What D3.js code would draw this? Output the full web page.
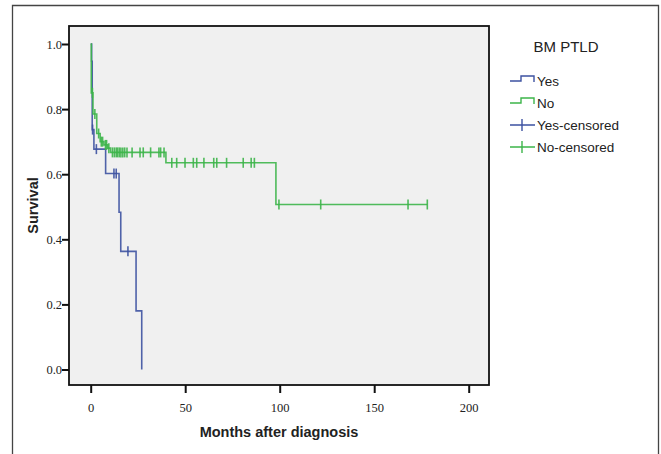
<!DOCTYPE html>
<html>
<head>
<meta charset="utf-8">
<script src="https://cdn.jsdelivr.net/npm/d3@7"></script>
<style>
  body { margin: 0; background: #fff; }
  svg { display: block; }
</style>
</head>
<body>
<script>
// survival steps (months, survival)
const yesTimes = [0, 0.5, 0.8, 1.7, 7.9, 15.0, 15.9, 24.0, 27.0];
const yesSurv = [1.0, 0.947, 0.737, 0.677, 0.602, 0.483, 0.363, 0.18, 0.0];
const yesCensored = [1.0, 3.0, 12.3, 13.5, 19.7];

const noTimes = [0, 0.3, 1.2, 3.2, 5.0, 7.0, 9.0, 10.5, 39.8, 98.0];
const noSurv = [1.0, 0.85, 0.785, 0.725, 0.70, 0.69, 0.68, 0.667, 0.635, 0.507];
const noCensored = [0.9, 2.2, 4.2, 5.6, 6.3, 7.8, 8.4, 9.6, 11.5, 12.5, 13.5, 14.3, 15.2,
  16.0, 17.0, 18.0, 19.2, 21.9, 26.1, 27.8, 31.7, 36.1, 37.0, 38.8, 42.9, 45.5, 49.9,
  54.3, 56.1, 59.9, 65.1, 66.7, 71.9, 80.7, 84.9, 86.6, 99.6, 121.7, 167.9, 178.1];

const xTicks = [0, 50, 100, 150, 200];
const yTicks = [0.0, 0.2, 0.4, 0.6, 0.8, 1.0];
const legendLabels = ["Yes", "No", "Yes-censored", "No-censored"];

const blue = "#3d52a1";
const green = "#3db54a";

let width = 661, height = 454;
let plot = {left: 69, right: 489, top: 26, bottom: 385};

let svg = d3.select("body").append("svg")
  .attr("width", width)
  .attr("height", height);

// outer frame
svg.append("path")
  .attr("d", "M12.5," + height + "V5.5H658.5V" + height)
  .attr("fill", "none")
  .attr("stroke", "#444")
  .attr("stroke-width", 1.3);

svg.append("rect")
  .attr("x", plot.left)
  .attr("y", plot.top)
  .attr("width", plot.right - plot.left)
  .attr("height", plot.bottom - plot.top)
  .attr("fill", "#f0f0f0");

let x = d3.scaleLinear().domain([0, 200]).range([90.7, 468.7]);
let y = d3.scaleLinear().domain([0, 1]).range([369.5, 44]);

// axes
let xAxis = d3.axisBottom(x).tickValues(xTicks).tickSize(8).tickSizeOuter(0).tickFormat(d3.format("d"));
let yAxis = d3.axisLeft(y).tickValues(yTicks).tickSize(7).tickSizeOuter(0).tickFormat(d3.format(".1f"));

let gx = svg.append("g").attr("transform", "translate(0," + plot.bottom + ")").call(xAxis);
let gy = svg.append("g").attr("transform", "translate(" + plot.left + ",0)").call(yAxis);
[gx, gy].forEach(g => {
  g.select(".domain").remove();
  g.selectAll(".tick line").attr("stroke", "#111").attr("stroke-width", 2);
  g.selectAll(".tick text")
    .attr("font-family", "'Liberation Serif', 'DejaVu Serif', serif")
    .attr("font-size", 12.5)
    .attr("fill", "#222");
});
gx.selectAll(".tick text").attr("dy", "1.25em");
gy.selectAll(".tick text").attr("x", -7);

function stepPath(times, surv, end) {
  let p = "M" + x(times[0]) + "," + y(surv[0]);
  for (let i = 1; i < times.length; i++) {
    p += "H" + x(times[i]) + "V" + y(surv[i]);
  }
  if (end != null) p += "H" + x(end);
  return p;
}

function survAt(times, surv, t) {
  let s = surv[0];
  times.forEach((d, i) => { if (d <= t) s = surv[i]; });
  return s;
}

function drawGroup(times, surv, censored, end, col) {
  svg.append("path")
    .attr("d", stepPath(times, surv, end))
    .attr("fill", "none")
    .attr("stroke", col)
    .attr("stroke-width", 1.6)
    .attr("opacity", 0.9);
  svg.append("g").selectAll("line")
    .data(censored)
    .enter()
    .append("line")
    .attr("x1", d => x(d))
    .attr("x2", d => x(d))
    .attr("y1", d => y(survAt(times, surv, d)) - 5)
    .attr("y2", d => y(survAt(times, surv, d)) + 5)
    .attr("stroke", col)
    .attr("stroke-width", 1.6)
    .attr("opacity", 0.9);
}

drawGroup(yesTimes, yesSurv, yesCensored, null, blue);
drawGroup(noTimes, noSurv, noCensored, noCensored[noCensored.length - 1], green);

// plot frame
svg.append("rect")
  .attr("x", plot.left)
  .attr("y", plot.top)
  .attr("width", plot.right - plot.left)
  .attr("height", plot.bottom - plot.top)
  .attr("fill", "none")
  .attr("stroke", "#111")
  .attr("stroke-width", 1.8);

// axis titles
svg.append("text")
  .attr("x", 279)
  .attr("y", 437)
  .attr("text-anchor", "middle")
  .attr("font-family", "'Liberation Sans', Arial, sans-serif")
  .attr("font-weight", "bold")
  .attr("font-size", 14.5)
  .attr("fill", "#222")
  .text("Months after diagnosis");

svg.append("text")
  .attr("transform", "translate(37.5,205.5) rotate(-90)")
  .attr("text-anchor", "middle")
  .attr("font-family", "'Liberation Sans', Arial, sans-serif")
  .attr("font-weight", "bold")
  .attr("font-size", 14.5)
  .attr("fill", "#222")
  .text("Survival");

// legend
svg.append("text")
  .attr("x", 566)
  .attr("y", 51.5)
  .attr("text-anchor", "middle")
  .attr("font-family", "'Liberation Sans', Arial, sans-serif")
  .attr("font-size", 15)
  .attr("fill", "#222")
  .text("BM PTLD");

let legCols = [blue, green, blue, green];
legendLabels.forEach((d, i) => {
  let cy = 81 + i * 22;
  if (i < 2) {
    svg.append("path")
      .attr("d", "M510," + cy + "H521V" + (cy - 5) + "H534V" + (cy + 1))
      .attr("fill", "none")
      .attr("stroke", legCols[i])
      .attr("stroke-width", 1.4);
  } else {
    svg.append("path")
      .attr("d", "M510," + cy + "H535M522," + (cy - 6) + "V" + (cy + 6))
      .attr("fill", "none")
      .attr("stroke", legCols[i])
      .attr("stroke-width", 1.4);
  }
  svg.append("text")
    .attr("x", 537)
    .attr("y", cy + 5)
    .attr("font-family", "'Liberation Sans', Arial, sans-serif")
    .attr("font-size", 13.5)
    .attr("fill", "#222")
    .text(d);
});
</script>
</body>
</html>
